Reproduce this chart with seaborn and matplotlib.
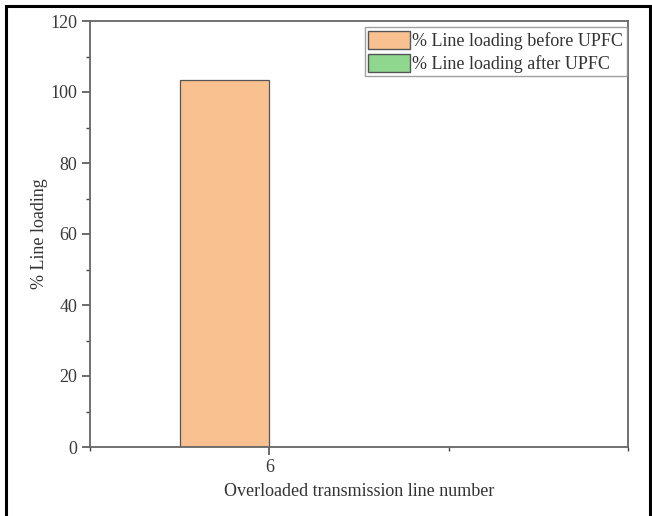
import matplotlib
matplotlib.use("Agg")
import matplotlib.pyplot as plt
from matplotlib.patches import Patch, Rectangle
from matplotlib.ticker import MultipleLocator, FixedLocator
import seaborn as sns
import pandas as pd

# Line loading of the overloaded transmission line, before/after UPFC placement
line_numbers = ["6", "6"]
conditions = ["% Line loading before UPFC", "% Line loading after UPFC"]
loading = [103.5, 0.0]

colors = {"% Line loading before UPFC": "#F9C190",
          "% Line loading after UPFC": "#8FD68F"}

df = pd.DataFrame({"line": line_numbers, "condition": conditions, "loading": loading})

sns.set_style("white")
plt.rcParams["font.family"] = ["Liberation Serif", "DejaVu Serif"]
plt.rcParams["font.size"] = 13

fig = plt.figure(figsize=(6.52, 5.16), dpi=100)
ax = fig.add_axes([90 / 652, 1 - 447 / 516, 538 / 652, 426 / 516])

sns.barplot(data=df, x="line", y="loading", hue="condition", hue_order=conditions,
            palette=colors, saturation=1, width=0.5, edgecolor="#555555", linewidth=0.9,
            legend=False, ax=ax)

ax.set_xlim(-0.5, 1.0)
ax.set_ylim(0, 120)
ax.yaxis.set_major_locator(MultipleLocator(20))
ax.yaxis.set_minor_locator(MultipleLocator(10))
ax.xaxis.set_minor_locator(FixedLocator([-0.5, 0.5, 1.0]))

spine_color = "#666666"
for s in ax.spines.values():
    s.set_color(spine_color)
    s.set_linewidth(1.3)
    s.set_visible(True)

ax.tick_params(axis="both", which="major", direction="out", length=6, width=1.1,
               color="#444444", labelcolor="#3a3a3a", labelsize=13, pad=3,
               bottom=True, left=True)
ax.tick_params(axis="both", which="minor", direction="out", length=3, width=1.0,
               color="#444444", bottom=True, left=True)

ax.set_xlabel("Overloaded transmission line number", fontsize=13, color="#333333", labelpad=5)
ax.set_ylabel("% Line loading", fontsize=13, color="#333333", labelpad=2)

handles = [Patch(facecolor=colors[c], edgecolor="#555555", linewidth=1.0, label=c)
           for c in conditions]
leg = ax.legend(handles=handles, loc="upper right", bbox_to_anchor=(0.998, 0.986),
                borderaxespad=0, borderpad=0.2, handlelength=2.3, handleheight=1.2,
                handletextpad=0.15, labelspacing=0.2, fancybox=False, frameon=True,
                fontsize=13)
leg.get_frame().set_edgecolor("#888888")
leg.get_frame().set_linewidth(1.0)
for t in leg.get_texts():
    t.set_color("#333333")

# outer frame around the figure
fig.patches.append(Rectangle((6 / 652, -0.01), 644 / 652, 1 - 6 / 516 + 0.01,
                             transform=fig.transFigure, fill=False,
                             edgecolor="black", linewidth=2.2))

fig.savefig("out.png", dpi=100)
